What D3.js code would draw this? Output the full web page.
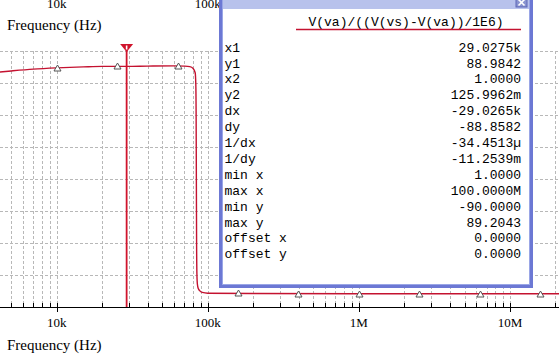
<!DOCTYPE html>
<html>
<head>
<meta charset="utf-8">
<script src="https://cdn.jsdelivr.net/npm/d3@7"></script>
<style>
  html, body { margin: 0; padding: 0; background: #fff; }
  svg { display: block; }
  .tick-label { font-family: "Liberation Serif", "Times New Roman", serif; font-size: 13px; fill: #000; }
  .axis-title { font-family: "Liberation Serif", "Times New Roman", serif; font-size: 15px; fill: #000; }
  .mono { font-family: "Liberation Mono", "Courier New", monospace; font-size: 13px; fill: #000; }
</style>
</head>
<body>
<svg width="559" height="354"></svg>
<script>
/// data ///
var freq = [4200, 5000, 7000, 10000, 15000, 20000, 29027.5, 40000, 60000, 70000, 76000, 80000,
            82500, 83300, 83700, 84000, 84300, 84700, 85300, 86500, 89000, 92000, 100000,
            200000, 1e6, 1e7, 2.2e7];
var value = [86.8, 87.2, 87.9, 88.4, 88.8, 89.0, 88.98, 89.1, 89.2, 89.1, 88.9, 88.2,
             86.5, 82, 70, 45, 20, 8, 4, 2.2, 1.2, 0.7, 0.4,
             0.25, 0.2, 0.2, 0.2];
var tickFreqs = [1e4, 1e5, 1e6, 1e7];
var tickLabels = ["10k", "100k", "1M", "10M"];
var cursorX = 29027.5, cursorY = 88.9842;
var traceName = "V(va)/((V(vs)-V(va))/1E6)";
var rowLabels = ["x1", "y1", "x2", "y2", "dx", "dy", "1/dx", "1/dy", "min x", "max x", "min y", "max y", "offset x", "offset y"];
var rowValues = ["29.0275k", "88.9842", "1.0000", "125.9962m", "-29.0265k", "-88.8582", "-34.4513\u00b5", "-11.2539m",
                 "1.0000", "100.0000M", "-90.0000", "89.2043", "0.0000", "0.0000"];

/// settings ///
var svg = d3.select("svg"),
    width = +svg.attr("width"),
    height = +svg.attr("height");

var axisY = 307, plotTop = 51;

var x = d3.scaleLog().domain([1e4, 1e7]).range([56.7, 510]);
var y = d3.scaleLinear().domain([-5, 95]).range([axisY, plotTop]);

var xmin = x.invert(0), xmax = x.invert(width);

// grid lines at 1..9 x 10^n
var gridX = [];
for (var e = 3; e <= 7; e++) {
  for (var m = 1; m <= 9; m++) {
    var f = m * Math.pow(10, e);
    if (f >= xmin && f <= xmax) gridX.push(f);
  }
}
var gridY = d3.range(7.5, 96, 12.5);

var grid = svg.append("g").attr("stroke", "#b8b8b8").attr("stroke-width", 1).attr("stroke-dasharray", "3,2");
grid.selectAll(".gx").data(gridX).enter().append("line")
  .attr("x1", function(d) { return Math.round(x(d)) + 0.5; })
  .attr("x2", function(d) { return Math.round(x(d)) + 0.5; })
  .attr("y1", plotTop).attr("y2", axisY);
grid.selectAll(".gy").data(gridY).enter().append("line")
  .attr("x1", 0).attr("x2", width)
  .attr("y1", function(d) { return Math.round(y(d)) + 0.5; })
  .attr("y2", function(d) { return Math.round(y(d)) + 0.5; });

// x axis
svg.append("line").attr("x1", 0).attr("x2", width)
  .attr("y1", axisY + 0.5).attr("y2", axisY + 0.5)
  .attr("stroke", "#000").attr("stroke-width", 1);
svg.append("g").selectAll("line").data(gridX).enter().append("line")
  .attr("x1", function(d) { return Math.round(x(d)) + 0.5; })
  .attr("x2", function(d) { return Math.round(x(d)) + 0.5; })
  .attr("y1", axisY - 4)
  .attr("y2", function(d) { return tickFreqs.indexOf(d) >= 0 ? axisY + 5 : axisY; })
  .attr("stroke", "#000");

svg.append("g").selectAll("text").data(tickFreqs).enter().append("text")
  .attr("class", "tick-label")
  .attr("x", x).attr("y", 327)
  .attr("text-anchor", "middle")
  .text(function(d, i) { return tickLabels[i]; });
// labels of the upper (cut off) plot
svg.append("g").selectAll("text").data(tickFreqs).enter().append("text")
  .attr("class", "tick-label")
  .attr("x", x).attr("y", 8)
  .attr("text-anchor", "middle")
  .text(function(d, i) { return tickLabels[i]; });

svg.append("text").attr("class", "axis-title").attr("x", 7).attr("y", 30).text("Frequency (Hz)");
svg.append("text").attr("class", "axis-title").attr("x", 7).attr("y", 350).text("Frequency (Hz)");

// trace
var pts = freq.map(function(d, i) { return [d, value[i]]; });
var line = d3.line()
  .x(function(d) { return x(d[0]); })
  .y(function(d) { return y(d[1]); })
  .curve(d3.curveMonotoneX);
svg.append("path").datum(pts)
  .attr("d", line)
  .attr("fill", "none")
  .attr("stroke", "#c41230")
  .attr("stroke-width", 1.4);

// trace symbols every 0.4 decade
var symF = [];
for (var k = -1; k <= 9; k++) {
  var s = Math.pow(10, 4 + 0.4 * k);
  if (s >= xmin && s <= xmax) symF.push(s);
}
function valueAt(f) {
  var lf = Math.log10(f);
  for (var i = 1; i < freq.length; i++) {
    if (f <= freq[i]) {
      var a = Math.log10(freq[i - 1]), b = Math.log10(freq[i]);
      var t = (lf - a) / (b - a);
      return value[i - 1] + t * (value[i] - value[i - 1]);
    }
  }
  return value[value.length - 1];
}
svg.append("g").selectAll("path").data(symF).enter().append("path")
  .attr("d", function(d) {
    var cx = Math.round(x(d)) + 0.5, cy = Math.round(y(valueAt(d))) + 0.5;
    return "M" + (cx - 3.5) + "," + (cy + 2.5) + "L" + cx + "," + (cy - 3.5) + "L" + (cx + 3.5) + "," + (cy + 2.5) + "Z";
  })
  .attr("fill", "#fff")
  .attr("stroke", "#555")
  .attr("stroke-width", 1);

// cursor
var cx0 = x(cursorX);
svg.append("line")
  .attr("x1", cx0).attr("x2", cx0)
  .attr("y1", 50).attr("y2", axisY)
  .attr("stroke", "#d0142c").attr("stroke-width", 1.8);
svg.append("path")
  .attr("d", "M" + (cx0 - 6.5) + ",44L" + (cx0 + 6.5) + ",44L" + cx0 + ",52Z")
  .attr("fill", "#d0142c");
svg.append("rect").attr("x", cx0 - 0.8).attr("y", 45.5).attr("width", 1.6).attr("height", 4).attr("fill", "#fff");

/// probe cursor window ///
var win = svg.append("g");
win.append("rect").attr("x", 219).attr("y", -10).attr("width", 314).attr("height", 298)
  .attr("fill", "#6c78d4");
win.append("rect").attr("x", 222).attr("y", -6).attr("width", 308).attr("height", 291)
  .attr("fill", "#9aa6e6");
win.append("rect").attr("x", 223).attr("y", 0).attr("width", 306).attr("height", 9)
  .attr("fill", "#b8c2ec");
win.append("rect").attr("x", 223).attr("y", 9).attr("width", 306).attr("height", 275)
  .attr("fill", "#fff");
// close button
win.append("rect").attr("x", 516).attr("y", -3).attr("width", 11).attr("height", 10)
  .attr("fill", "#8a94d0").attr("stroke", "#5c66b8");
win.append("path").attr("d", "M518.5,-0.5L524.5,5.5M524.5,-0.5L518.5,5.5")
  .attr("stroke", "#fff").attr("stroke-width", 1.6);

win.append("text").attr("class", "mono")
  .attr("x", 406).attr("y", 26).attr("text-anchor", "middle")
  .text(traceName);
win.append("line").attr("x1", 296).attr("x2", 521).attr("y1", 29.5).attr("y2", 29.5)
  .attr("stroke", "#c41230").attr("stroke-width", 1.4);

var rows = d3.scaleLinear().domain([0, rowLabels.length - 1]).range([51.6, 258.3]);
win.append("g").selectAll("text").data(rowLabels).enter().append("text")
  .attr("class", "mono")
  .attr("x", 224.5)
  .attr("y", function(d, i) { return rows(i); })
  .text(function(d) { return d; });
win.append("g").selectAll("text").data(rowValues).enter().append("text")
  .attr("class", "mono")
  .attr("x", 521)
  .attr("y", function(d, i) { return rows(i); })
  .attr("text-anchor", "end")
  .text(function(d) { return d; });
</script>
</body>
</html>
